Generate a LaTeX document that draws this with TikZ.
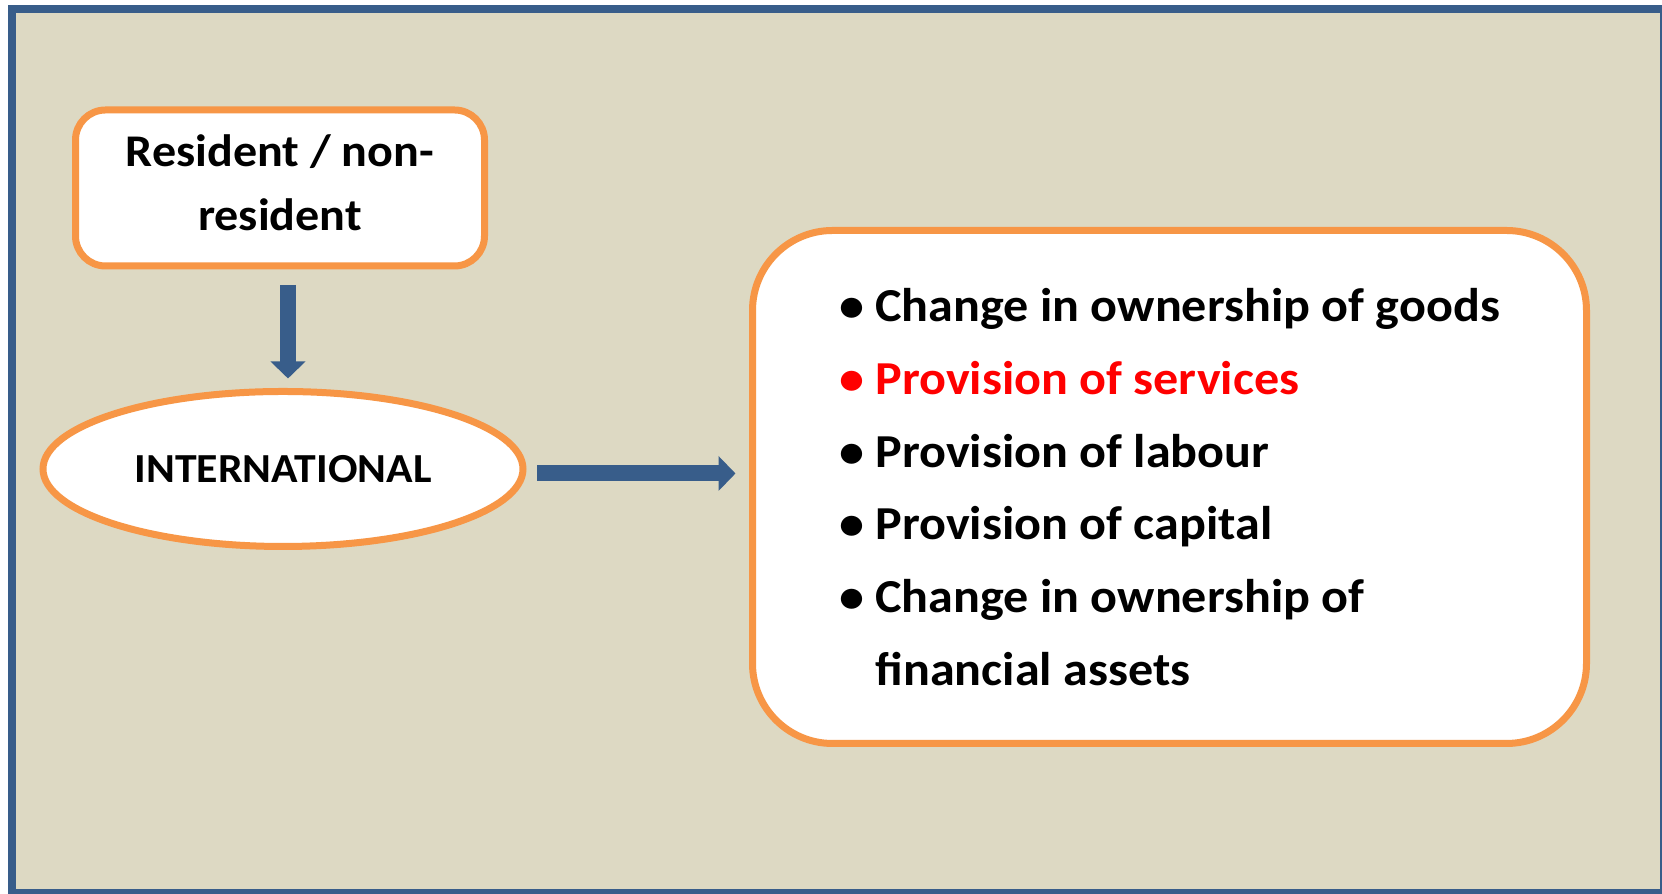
\documentclass[tikz,border=0pt]{standalone}
\usepackage{fontspec}
\setmainfont{Carlito}[FakeStretch=1.06]
\usetikzlibrary{arrows.meta}
\usetikzlibrary{positioning}
\usetikzlibrary{shapes.geometric}
\definecolor{panelbg}{HTML}{DDD9C3}
\definecolor{frameblue}{HTML}{385D8A}
\definecolor{boxorange}{HTML}{F79646}
\tikzset{
  orangebox/.style={draw=boxorange, line width=0.14cm, fill=white, rounded corners=0.6cm, inner sep=0pt, align=center},
  bluearrow/.style={draw=frameblue, line width=0.32cm, -{Triangle[width=0.68cm,length=0.34cm]}},
}

\begin{document}
\begin{tikzpicture}
  \useasboundingbox (0,0) rectangle (33.24,17.88);
  \fill[white] (0,0) rectangle (33.24,17.88);
  % outer panel
  \draw[frameblue, line width=0.16cm, fill=panelbg] (0.24,0.02) rectangle (33.28,17.70);

  \node[orangebox, minimum width=8.18cm, minimum height=3.12cm,
        font=\bfseries\fontsize{25.8}{36.5}\selectfont] (res) at (5.6,14.12) {Resident / non-\\resident\rule[-0.2cm]{0pt}{0pt}};
  \node[orangebox, ellipse, rounded corners=0pt, minimum width=9.6cm, minimum height=3.1cm,
        font=\bfseries\fontsize{23.5}{27}\selectfont] (intl) at (5.66,8.5) {INTERNATIONAL};
  \node[orangebox, rounded corners=1.6cm, minimum width=16.68cm, minimum height=10.26cm, align=left,
        font=\bfseries\fontsize{26.9}{41.4}\selectfont] (items) at (23.39,8.14)
        {\textbullet\ Change in ownership of goods\\
         \textcolor{red}{\textbullet\ Provision of services}\\
         \textbullet\ Provision of labour\\
         \textbullet\ Provision of capital\\
         \textbullet\ Change in ownership of\\
         \hphantom{\textbullet\ }financial assets};

  \draw[bluearrow, shorten <=0.31cm, shorten >=0.19cm] ([xshift=0.16cm]res.south) -- ([xshift=0.16cm]res.south |- intl.north);
  \draw[bluearrow, shorten <=0.21cm, shorten >=0.27cm] ([yshift=-0.09cm]intl.east) -- ([yshift=-0.09cm]intl.east -| items.west);
\end{tikzpicture}
\end{document}
